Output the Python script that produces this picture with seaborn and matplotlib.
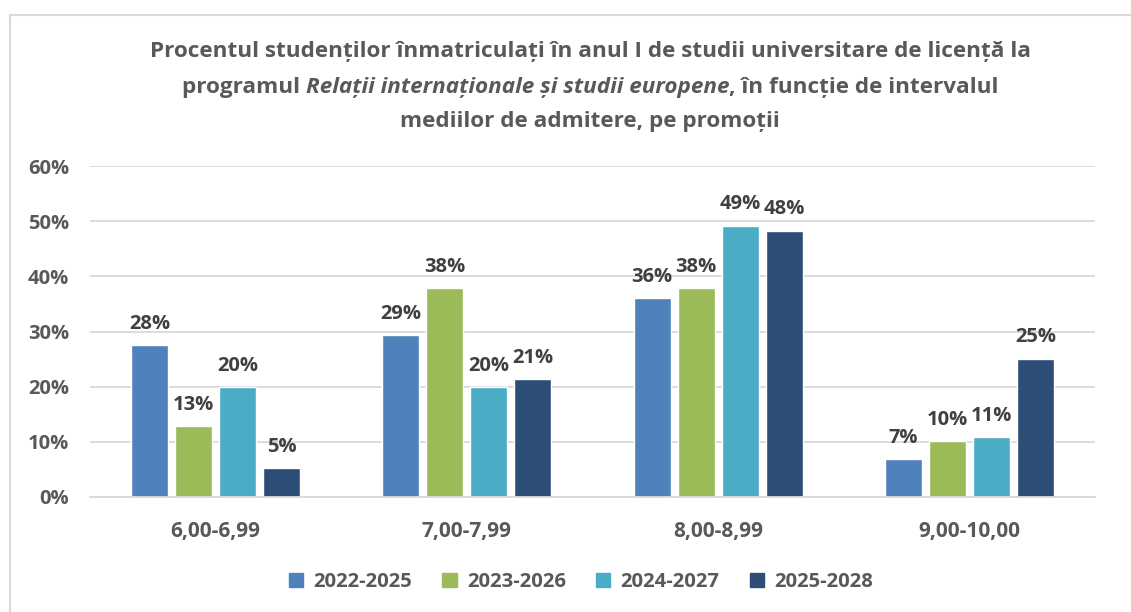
import pandas as pd
import seaborn as sns
import matplotlib.pyplot as plt
from matplotlib.patches import Rectangle
from matplotlib.ticker import PercentFormatter

# data (percent)
intervals = ['6,00-6,99', '7,00-7,99', '8,00-8,99', '9,00-10,00']
cohorts = ['2022-2025', '2023-2026', '2024-2027', '2025-2028']
v_2022 = [27.6, 29.3, 36.1, 6.9]
v_2023 = [12.9, 37.9, 37.9, 10.1]
v_2024 = [19.9, 19.9, 49.2, 10.8]
v_2025 = [5.3, 21.4, 48.3, 25.1]
colors = ['#4F81BD', '#9BBB59', '#4BACC6', '#2C4D75']

rows = []
for coh, vals in zip(cohorts, [v_2022, v_2023, v_2024, v_2025]):
    for iv, v in zip(intervals, vals):
        rows.append({'Interval': iv, 'Promotie': coh, 'Procent': v})
df = pd.DataFrame(rows)

sns.set_style('white')
plt.rcParams['font.family'] = ['Open Sans', 'DejaVu Sans']

fig = plt.figure(figsize=(11.31, 6.12), dpi=100)
ax = fig.add_axes([90 / 1131, 1 - 497 / 612, 1005 / 1131, 331 / 612])

sns.barplot(data=df, x='Interval', y='Procent', hue='Promotie', palette=colors,
            width=0.7, gap=0.16, ax=ax, legend=False, saturation=1)

for cont in ax.containers:
    ax.bar_label(cont, fmt='%.0f%%', padding=8, fontsize=14.5, fontweight='bold',
                 color='#404040')

ax.set_ylim(0, 60)
ax.set_yticks(range(0, 61, 10))
ax.yaxis.set_major_formatter(PercentFormatter(decimals=0))
ax.grid(axis='y', color='#D9D9D9', linewidth=1.3)
ax.set_axisbelow(True)
for s in ['top', 'right', 'left']:
    ax.spines[s].set_visible(False)
ax.spines['bottom'].set_color('#D9D9D9')
ax.spines['bottom'].set_linewidth(1.3)
ax.set_xlabel('')
ax.set_ylabel('')
ax.tick_params(axis='y', length=0, pad=15, labelsize=14.5, labelcolor='#595959')
ax.tick_params(axis='x', length=0, pad=17, labelsize=15, labelcolor='#595959')
for lab in ax.get_xticklabels() + ax.get_yticklabels():
    lab.set_fontweight('bold')

# chart border
fig.patches.append(Rectangle((10 / 1131, -0.1), 1.2, 1.1 - 15 / 612,
                             transform=fig.transFigure, fill=False,
                             edgecolor='#D9D9D9', linewidth=1.5))

# title with italic programme name
tx = 590
tkw = dict(fontsize=16.2, fontweight='bold', color='#595959', va='center')
fig.text(tx / 1131, 1 - 51 / 612,
         'Procentul studenților înmatriculați în anul I de studii universitare de licență la',
         ha='center', **tkw)
fig.text(tx / 1131, 1 - 121 / 612, 'mediilor de admitere, pe promoții', ha='center', **tkw)
parts = [('programul ', 'normal'), ('Relații internaționale și studii europene', 'italic'),
         (', în funcție de intervalul', 'normal')]
fig.canvas.draw()
r = fig.canvas.get_renderer()
texts = [fig.text(0, 1 - 87 / 612, p, style=st, ha='left', **tkw) for p, st in parts]
widths = [t.get_window_extent(r).width for t in texts]
x = tx - sum(widths) / 2
for t, w in zip(texts, widths):
    t.set_x(x / 1131)
    x += w

# legend
handles = [Rectangle((0, 0), 1, 1, color=c) for c in colors]
leg = fig.legend(handles, cohorts, loc='center', bbox_to_anchor=(581 / 1131, 1 - 582 / 612),
                 ncol=4, frameon=False, handlelength=0.7, handleheight=0.7,
                 columnspacing=1.5, handletextpad=0.5,
                 prop={'size': 14.6, 'weight': 'bold'})
for t in leg.get_texts():
    t.set_color('#595959')

fig.savefig('out.png', dpi=100)
